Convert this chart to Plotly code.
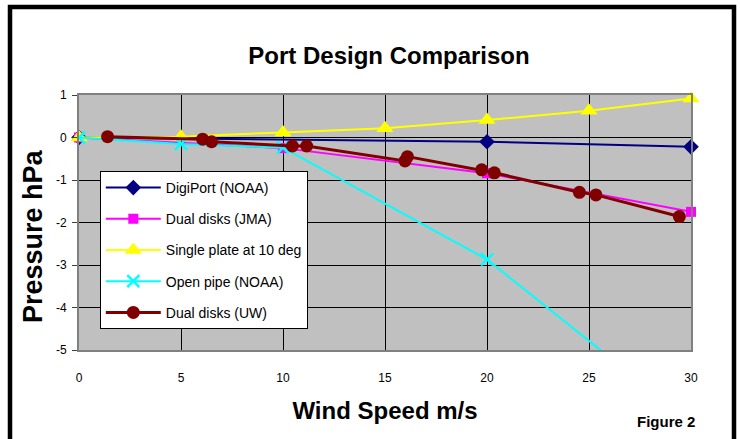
import plotly.graph_objects as go

# ---- data ----
digi_x = [0, 20, 30]
digi_y = [0, -0.1, -0.22]

jma_x = [0, 10, 20, 30]
jma_y = [0, -0.25, -0.84, -1.75]

plate_x = [0, 5, 10, 15, 20, 25, 30]
plate_y = [0, 0.02, 0.12, 0.22, 0.41, 0.63, 0.92]

pipe_x = [0, 5, 10, 20, 30]
pipe_y = [0, -0.15, -0.24, -2.87, -6.7]

uw_x = [1.4, 6.06, 6.5, 10.46, 11.16, 15.98, 16.1, 19.74, 20.36, 24.53, 25.34, 29.43]
uw_y = [0.02, -0.04, -0.1, -0.2, -0.2, -0.55, -0.45, -0.76, -0.83, -1.29, -1.35, -1.86]

x_ticks = [0, 5, 10, 15, 20, 25, 30]
y_ticks = [1, 0, -1, -2, -3, -4, -5]
y_tick_text = ["1", "0", "-1", "-2", "-3", "-4", "-5"]

FONT = "Liberation Sans, Arial, sans-serif"

fig = go.Figure()
series = [
    ("DigiPort (NOAA)", digi_x, digi_y, "#000080", "diamond", 12, 2, False),
    ("Dual disks (JMA)", jma_x, jma_y, "#FF00FF", "square", 10, 2, False),
    ("Single plate at 10 deg", plate_x, plate_y, "#FFFF00", "triangle-up", 15, 2, False),
    ("Open pipe (NOAA)", pipe_x, pipe_y, "#00FFFF", "x-thin-open", 12, 2, True),
    ("Dual disks (UW)", uw_x, uw_y, "#800000", "circle", 13, 3, False),
]
for i, (name, xs, ys, col, sym, sz, lw, clip) in enumerate(series):
    fig.add_trace(go.Scatter(
        x=xs, y=ys, name=name, mode="lines+markers",
        line=dict(color=col, width=lw),
        marker=dict(symbol=sym, size=sz, color=col,
                    line=dict(color=col, width=2.5 if "x" in sym else 0)),
        legendgroup=f"g{i}",
        cliponaxis=clip,
    ))

fig.update_layout(
    width=740, height=439,
    paper_bgcolor="white", plot_bgcolor="#C0C0C0",
    margin=dict(l=79, r=49, t=95, b=89),
    font=dict(family=FONT, color="black", size=12),
    title=dict(text="<b>Port Design Comparison</b>", x=389/740, xanchor="center",
               y=1 - 56/439, yanchor="middle", yref="container",
               font=dict(size=24, family=FONT, color="black")),
    showlegend=True,
    legend=dict(x=0.034, y=0.702, xanchor="left", yanchor="top",
                bgcolor="white", bordercolor="black", borderwidth=1,
                font=dict(size=14, family=FONT, color="black"),
                tracegroupgap=10, itemwidth=55, traceorder="grouped"),
    xaxis=dict(range=[0, 30], tickvals=x_ticks, showgrid=True, gridcolor="black",
               gridwidth=1, zeroline=False, showline=True, linecolor="#808080",
               linewidth=2, mirror=True, ticks="", ticklabelstandoff=16,
               tickfont=dict(size=12),
               title=dict(text="<b>Wind Speed m/s</b>", font=dict(size=24), standoff=18)),
    yaxis=dict(range=[-5, 1], tickvals=y_ticks, ticktext=y_tick_text, showgrid=True,
               gridcolor="black", gridwidth=1, zeroline=False, showline=True,
               linecolor="#808080", linewidth=2, mirror=True, ticks="outside", ticklen=5,
               tickcolor="#404040", tickfont=dict(size=12), ticklabelstandoff=3),
)

# y-axis title (placed slightly below the axis centre, as in the reference)
fig.add_annotation(text="<b>Pressure hPa</b>", xref="paper", yref="paper",
                   x=(33 - 79) / 612, y=(350 - 236) / 255, textangle=-90,
                   showarrow=False, xanchor="center", yanchor="middle",
                   font=dict(size=27, family=FONT, color="black"))

# outer frame of the figure
fig.add_shape(type="rect", xref="paper", yref="paper",
              x0=(10 - 79) / 612, x1=(734 - 79) / 612,
              y0=(350 - 460) / 255, y1=(350 - 7) / 255,
              line=dict(color="black", width=4.5), fillcolor="rgba(0,0,0,0)", layer="above")

fig.add_annotation(text="<b>Figure 2</b>", xref="paper", yref="paper",
                   x=(666 - 79) / 612, y=(350 - 421) / 255, showarrow=False,
                   xanchor="center", yanchor="middle", font=dict(size=15, family=FONT, color="black"))

fig.write_html("out.html", config={"displayModeBar": False},
               post_script="document.body.style.margin='0';")
